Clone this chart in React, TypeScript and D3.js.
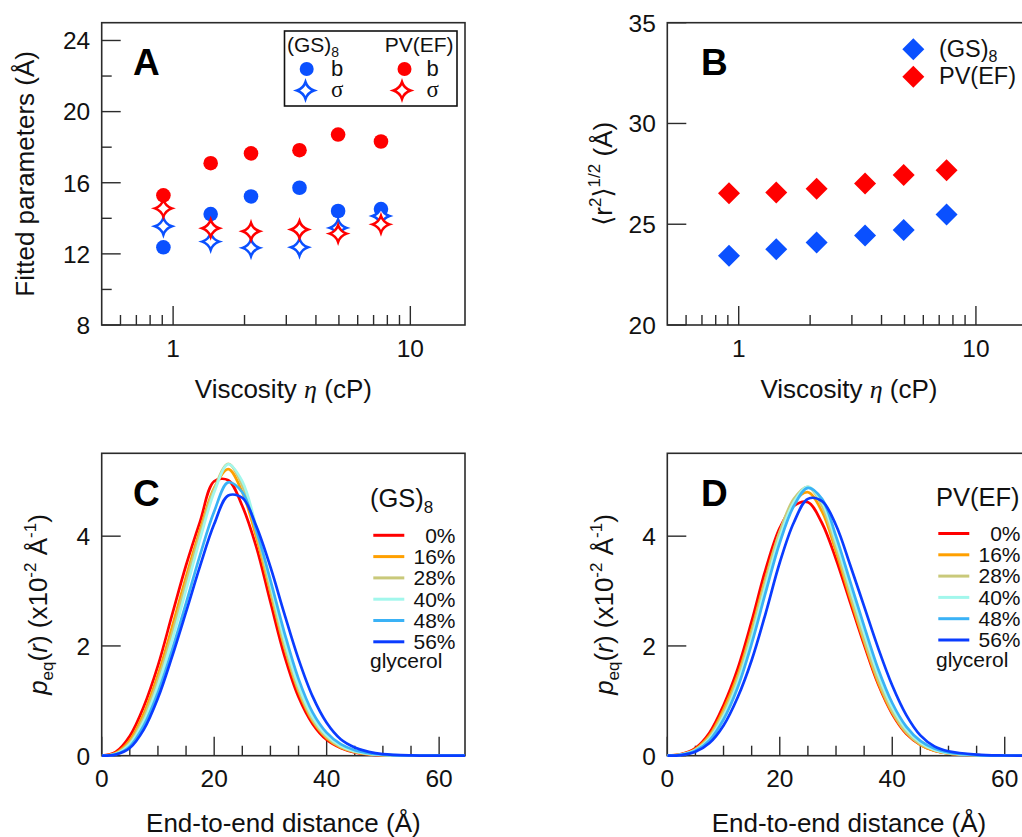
import React from 'react';
import * as d3 from 'd3';

// ---------- data ----------
const viscosity = [0.91, 1.44, 2.13, 3.41, 4.96, 7.52];
const gsB = [12.37, 14.24, 15.23, 15.72, 14.41, 14.52];
const gsSigma = [13.55, 12.69, 12.34, 12.37, 13.46, 14.13];
const pvB = [15.29, 17.1, 17.65, 17.83, 18.71, 18.32];
const pvSigma = [14.56, 13.44, 13.27, 13.37, 13.14, 13.66];
const gsRms = [23.44, 23.76, 24.09, 24.44, 24.72, 25.48];
const pvRms = [26.54, 26.57, 26.76, 27.02, 27.44, 27.68];

const rGrid = [0, 2.5, 5, 7.5, 10, 12.5, 15, 17.5, 20, 22.5, 25, 27.5, 30, 32.5, 35, 37.5, 40, 42.5, 45, 47.5, 50, 55, 60, 65];
const glycerol = ['0%', '16%', '28%', '40%', '48%', '56%'];
const curveColors = ['#ff0000', '#ffa000', '#c9c97a', '#a2f7ec', '#3ab2f6', '#0a3cff'];

const gs0 = [0, 0.07, 0.36, 0.9, 1.64, 2.56, 3.47, 4.27, 5.0, 5.02, 4.55, 3.8, 2.8, 1.82, 1.07, 0.58, 0.29, 0.14, 0.06, 0.025, 0.01, 0.002, 0, 0];
const gs16 = [0, 0.05, 0.28, 0.77, 1.47, 2.34, 3.26, 4.12, 4.88, 5.22, 4.8, 3.98, 2.98, 1.97, 1.17, 0.63, 0.32, 0.15, 0.07, 0.03, 0.012, 0.002, 0, 0];
const gs28 = [0, 0.04, 0.24, 0.7, 1.38, 2.22, 3.15, 4.05, 4.86, 5.32, 4.92, 4.06, 3.04, 2.02, 1.21, 0.66, 0.34, 0.16, 0.07, 0.03, 0.012, 0.002, 0, 0];
const gs40 = [0, 0.03, 0.21, 0.63, 1.28, 2.1, 3.02, 3.95, 4.8, 5.31, 5.0, 4.16, 3.14, 2.11, 1.28, 0.71, 0.37, 0.18, 0.08, 0.035, 0.014, 0.003, 0, 0];
const gs48 = [0, 0.025, 0.17, 0.55, 1.15, 1.92, 2.78, 3.66, 4.45, 4.98, 4.8, 4.1, 3.2, 2.24, 1.4, 0.79, 0.42, 0.21, 0.1, 0.045, 0.02, 0.004, 0, 0];
const gs56 = [0, 0.02, 0.14, 0.48, 1.05, 1.8, 2.62, 3.46, 4.22, 4.74, 4.7, 4.18, 3.44, 2.58, 1.76, 1.08, 0.6, 0.3, 0.15, 0.07, 0.03, 0.006, 0.001, 0];

const pv0 = [0, 0.03, 0.14, 0.42, 0.92, 1.58, 2.45, 3.4, 4.15, 4.55, 4.62, 4.24, 3.58, 2.8, 2.02, 1.3, 0.76, 0.4, 0.2, 0.09, 0.04, 0.01, 0, 0];
const pv16 = [0, 0.025, 0.12, 0.37, 0.84, 1.46, 2.3, 3.25, 4.08, 4.62, 4.8, 4.45, 3.72, 2.88, 2.07, 1.33, 0.78, 0.41, 0.2, 0.09, 0.04, 0.01, 0, 0];
const pv28 = [0, 0.02, 0.11, 0.34, 0.78, 1.4, 2.24, 3.2, 4.08, 4.68, 4.9, 4.55, 3.8, 2.95, 2.12, 1.38, 0.81, 0.43, 0.21, 0.1, 0.04, 0.01, 0, 0];
const pv40 = [0, 0.02, 0.1, 0.31, 0.72, 1.32, 2.14, 3.1, 3.98, 4.62, 4.9, 4.62, 3.9, 3.06, 2.24, 1.48, 0.88, 0.48, 0.24, 0.11, 0.05, 0.01, 0, 0];
const pv48 = [0, 0.015, 0.09, 0.28, 0.66, 1.24, 2.04, 2.98, 3.88, 4.55, 4.88, 4.68, 4.0, 3.18, 2.36, 1.58, 0.96, 0.53, 0.27, 0.13, 0.06, 0.012, 0.002, 0];
const pv56 = [0, 0.01, 0.07, 0.23, 0.55, 1.06, 1.74, 2.6, 3.52, 4.25, 4.68, 4.64, 4.2, 3.48, 2.72, 1.96, 1.28, 0.74, 0.37, 0.17, 0.08, 0.02, 0.004, 0];

const gsCurves = [gs0, gs16, gs28, gs40, gs48, gs56];
const pvCurves = [pv0, pv16, pv28, pv40, pv48, pv56];

const logMajor = [1, 10];
const logMinor = [0.6, 0.7, 0.8, 0.9, 2, 3, 4, 5, 6, 7, 8, 9];
const aYMajor = [8, 12, 16, 20, 24];
const aYMinor = [10, 14, 18, 22];
const bYMajor = [20, 25, 30, 35];
const cYMajor = [0, 2, 4];
const cXMajor = [0, 20, 40, 60];
const cXMinor = [5, 10, 15, 25, 30, 35, 45, 50, 55];

// ---------- style ----------
const FONT = '"Liberation Sans", Arial, Helvetica, sans-serif';
const SERIF = '"Liberation Serif", "Times New Roman", serif';
const AX = '#2b2b2b';
const BLUE = '#0a50ff';
const RED = '#ff0000';

const AL = 101.7, AR = 465, BL = 667.3, BR = 1030.6;
const TT = 22.7, TB = 325, BT = 453.3, BB = 755.7;
const MAJ = 19, MIN = 10;
const TICKFS = 24.5;

const starPath = (cx: number, cy: number, R = 8.5, k = 2.1) =>
  `M${cx},${cy - R}Q${cx + k},${cy - k} ${cx + R},${cy}Q${cx + k},${cy + k} ${cx},${cy + R}Q${cx - k},${cy + k} ${cx - R},${cy}Q${cx - k},${cy - k} ${cx},${cy - R}Z`;
const diamondPath = (cx: number, cy: number, h = 11) =>
  `M${cx},${cy - h}L${cx + h},${cy}L${cx},${cy + h}L${cx - h},${cy}Z`;

function Frame({ l, r, t, b }: { l: number; r: number; t: number; b: number }) {
  return <rect x={l} y={t} width={r - l} height={b - t} fill="none" stroke={AX} strokeWidth={1.6} />;
}

function YTicks({ scale, l, major, minor = [] as number[] }: any) {
  return (
    <g>
      {major.map((v: number) => (
        <g key={'M' + v}>
          <line x1={l} x2={l + MAJ} y1={scale(v)} y2={scale(v)} stroke={AX} strokeWidth={1.4} />
          <text x={l - 11.5} y={scale(v) + 8.8} textAnchor="end" fontSize={TICKFS} fontFamily={FONT} fill="#111">{v}</text>
        </g>
      ))}
      {minor.map((v: number) => (
        <line key={'m' + v} x1={l} x2={l + MIN} y1={scale(v)} y2={scale(v)} stroke={AX} strokeWidth={1.4} />
      ))}
    </g>
  );
}

function XTicks({ scale, b, major, minor }: any) {
  return (
    <g>
      {major.map((v: number) => (
        <g key={'M' + v}>
          <line x1={scale(v)} x2={scale(v)} y1={b} y2={b - MAJ} stroke={AX} strokeWidth={1.4} />
          <text x={scale(v)} y={b + 31.5} textAnchor="middle" fontSize={TICKFS} fontFamily={FONT} fill="#111">{v}</text>
        </g>
      ))}
      {minor.map((v: number) => (
        <line key={'m' + v} x1={scale(v)} x2={scale(v)} y1={b} y2={b - MIN} stroke={AX} strokeWidth={1.4} />
      ))}
    </g>
  );
}

export default function App() {
  const xA = d3.scaleLog().domain([0.5, 17]).range([AL, AR]);
  const xB = d3.scaleLog().domain([0.5, 17]).range([BL, BR]);
  const yA = d3.scaleLinear().domain([8, 25]).range([TB, TT]);
  const yB = d3.scaleLinear().domain([20, 35]).range([TB, TT]);
  const xC = d3.scaleLinear().domain([0, 64.6]).range([AL, AR]);
  const xD = d3.scaleLinear().domain([0, 64.6]).range([BL, BR]);
  const yC = d3.scaleLinear().domain([0, 5.51]).range([BB, BT]);

  const lineC = d3.line<number>().x((_, i) => xC(rGrid[i])).y((v) => yC(v)).curve(d3.curveCatmullRom.alpha(0.5));
  const lineD = d3.line<number>().x((_, i) => xD(rGrid[i])).y((v) => yC(v)).curve(d3.curveCatmullRom.alpha(0.5));

  const legLineY0C = 535.3, legLineY0D = 533.5, legStep = 21.3;
  const DJ = '"DejaVu Sans", sans-serif';

  return (
    <svg width={1022} height={837} style={{ position: 'absolute', left: 0, top: 0, background: '#fff' }} fontFamily={FONT}>
      <defs>
        <clipPath id="clipC"><rect x={AL} y={BT} width={AR - AL} height={BB - BT + 2} /></clipPath>
        <clipPath id="clipD"><rect x={BL} y={BT} width={BR - BL} height={BB - BT + 2} /></clipPath>
      </defs>
      <rect x={0} y={0} width={1022} height={837} fill="#fff" />

      {/* ---------- Panel A ---------- */}
      <Frame l={AL} r={AR} t={TT} b={TB} />
      <YTicks scale={yA} l={AL} major={aYMajor} minor={aYMinor} />
      <XTicks scale={xA} b={TB} major={logMajor} minor={logMinor} />
      <text x={133} y={75} fontSize={37} fontWeight="bold" fill="#000">A</text>
      <text transform={`translate(34,${(TT + TB) / 2}) rotate(-90)`} textAnchor="middle" fontSize={26} fill="#111">Fitted parameters (Å)</text>
      <text x={(AL + AR) / 2} y={398} textAnchor="middle" fontSize={26} fill="#111">
        Viscosity <tspan fontFamily={SERIF} fontStyle="italic">η</tspan> (cP)
      </text>
      {viscosity.map((v, i) => (
        <g key={'a' + i}>
          <circle cx={xA(v)} cy={yA(pvB[i])} r={7.3} fill={RED} />
          <circle cx={xA(v)} cy={yA(gsB[i])} r={7.3} fill={BLUE} />
          <path d={starPath(xA(v), yA(gsSigma[i]))} fill="#fff" stroke={BLUE} strokeWidth={2.5} />
          <path d={starPath(xA(v), yA(pvSigma[i]))} fill="#fff" stroke={RED} strokeWidth={2.5} />
        </g>
      ))}
      {/* legend A */}
      <rect x={284.5} y={31} width={172.5} height={75} fill="#fff" stroke="#111" strokeWidth={1.6} />
      <text x={287} y={51.5} fontSize={21} fill="#111">(GS)<tspan dy={5} fontSize={14}>8</tspan></text>
      <text x={453.5} y={51.5} textAnchor="end" fontSize={21} fill="#111">PV(EF)</text>
      <circle cx={306.7} cy={69} r={7} fill={BLUE} />
      <text x={331} y={75.5} fontSize={22} fill="#111">b</text>
      <circle cx={404.5} cy={69} r={7} fill={RED} />
      <text x={426.5} y={75.5} fontSize={22} fill="#111">b</text>
      <path d={starPath(305.5, 90.5)} fill="#fff" stroke={BLUE} strokeWidth={2.5} />
      <text x={331} y={97} fontSize={23} fontFamily={SERIF} fill="#111">σ</text>
      <path d={starPath(402, 90.5)} fill="#fff" stroke={RED} strokeWidth={2.5} />
      <text x={426.5} y={97} fontSize={23} fontFamily={SERIF} fill="#111">σ</text>

      {/* ---------- Panel B ---------- */}
      <Frame l={BL} r={BR} t={TT} b={TB} />
      <YTicks scale={yB} l={BL} major={bYMajor} />
      <XTicks scale={xB} b={TB} major={logMajor} minor={logMinor} />
      <text x={701} y={75} fontSize={37} fontWeight="bold" fill="#000">B</text>
      <text transform={`translate(612,${(TT + TB) / 2}) rotate(-90)`} textAnchor="middle" fontSize={26} fill="#111">
        <tspan fontFamily={DJ} fontSize={26}>⟨</tspan>r<tspan dy={-11} fontSize={17}>2</tspan><tspan dy={11} fontFamily={DJ} fontSize={26}>⟩</tspan><tspan dy={-12} fontSize={17}>1/2</tspan><tspan dy={12}> (Å)</tspan>
      </text>
      <text x={(BL + BR) / 2} y={398} textAnchor="middle" fontSize={26} fill="#111">
        Viscosity <tspan fontFamily={SERIF} fontStyle="italic">η</tspan> (cP)
      </text>
      {viscosity.map((v, i) => (
        <g key={'b' + i}>
          <path d={diamondPath(xB(v), yB(gsRms[i]))} fill={BLUE} />
          <path d={diamondPath(xB(v), yB(pvRms[i]))} fill={RED} />
        </g>
      ))}
      <path d={diamondPath(913.3, 49.3)} fill={BLUE} />
      <path d={diamondPath(913.3, 76.7)} fill={RED} />
      <text x={939} y={56.5} fontSize={23.5} fill="#111">(GS)<tspan dy={5} fontSize={16}>8</tspan></text>
      <text x={939} y={84} fontSize={23.5} fill="#111">PV(EF)</text>

      {/* ---------- Panel C ---------- */}
      <Frame l={AL} r={AR} t={BT} b={BB} />
      <YTicks scale={yC} l={AL} major={cYMajor} />
      <XTicks scale={xC} b={BB} major={cXMajor} minor={cXMinor} />
      <g clipPath="url(#clipC)">
        {gsCurves.map((c, i) => (
          <path key={'gc' + i} d={lineC(c) || ''} fill="none" stroke={curveColors[i]} strokeWidth={2.7} />
        ))}
      </g>
      <text x={133} y={506} fontSize={37} fontWeight="bold" fill="#000">C</text>

      {/* ---------- Panel D ---------- */}
      <Frame l={BL} r={BR} t={BT} b={BB} />
      <YTicks scale={yC} l={BL} major={cYMajor} />
      <XTicks scale={xD} b={BB} major={cXMajor} minor={cXMinor} />
      <g clipPath="url(#clipD)">
        {pvCurves.map((c, i) => (
          <path key={'pc' + i} d={lineD(c) || ''} fill="none" stroke={curveColors[i]} strokeWidth={2.7} />
        ))}
      </g>
      <text x={701} y={506} fontSize={37} fontWeight="bold" fill="#000">D</text>

      {/* y titles C / D */}
      {[47, 613].map((x, k) => (
        <text key={'yt' + k} transform={`translate(${x},${(BT + BB) / 2}) rotate(-90)`} textAnchor="middle" fontSize={26} fill="#111">
          <tspan fontStyle="italic">p</tspan><tspan dy={6} fontSize={17}>eq</tspan><tspan dy={-6}>(</tspan><tspan fontStyle="italic">r</tspan><tspan>) (x10</tspan><tspan dy={-11} fontSize={17}>-2</tspan><tspan dy={11}> Å</tspan><tspan dy={-11} fontSize={17}>-1</tspan><tspan dy={11}>)</tspan>
        </text>
      ))}
      {/* x titles C / D */}
      <text x={(AL + AR) / 2} y={832} textAnchor="middle" fontSize={26} fill="#111">End-to-end distance (Å)</text>
      <text x={(BL + BR) / 2} y={832} textAnchor="middle" fontSize={26} fill="#111">End-to-end distance (Å)</text>

      {/* legends C / D */}
      <text x={370} y={507} fontSize={25.5} fill="#111">(GS)<tspan dy={6} fontSize={17}>8</tspan></text>
      {glycerol.map((g, i) => (
        <g key={'lc' + i}>
          <line x1={373.3} x2={404.3} y1={legLineY0C + i * legStep} y2={legLineY0C + i * legStep} stroke={curveColors[i]} strokeWidth={3} />
          <text x={455.5} y={legLineY0C + i * legStep + 7.3} textAnchor="end" fontSize={21} fill="#111">{g}</text>
        </g>
      ))}
      <text x={370} y={667.5} fontSize={21} fill="#111">glycerol</text>

      <text x={936} y={506} fontSize={25.5} fill="#111">PV(EF)</text>
      {glycerol.map((g, i) => (
        <g key={'ld' + i}>
          <line x1={938.3} x2={969.3} y1={legLineY0D + i * legStep} y2={legLineY0D + i * legStep} stroke={curveColors[i]} strokeWidth={3} />
          <text x={1020.5} y={legLineY0D + i * legStep + 7.3} textAnchor="end" fontSize={21} fill="#111">{g}</text>
        </g>
      ))}
      <text x={936} y={666.5} fontSize={21} fill="#111">glycerol</text>
    </svg>
  );
}
